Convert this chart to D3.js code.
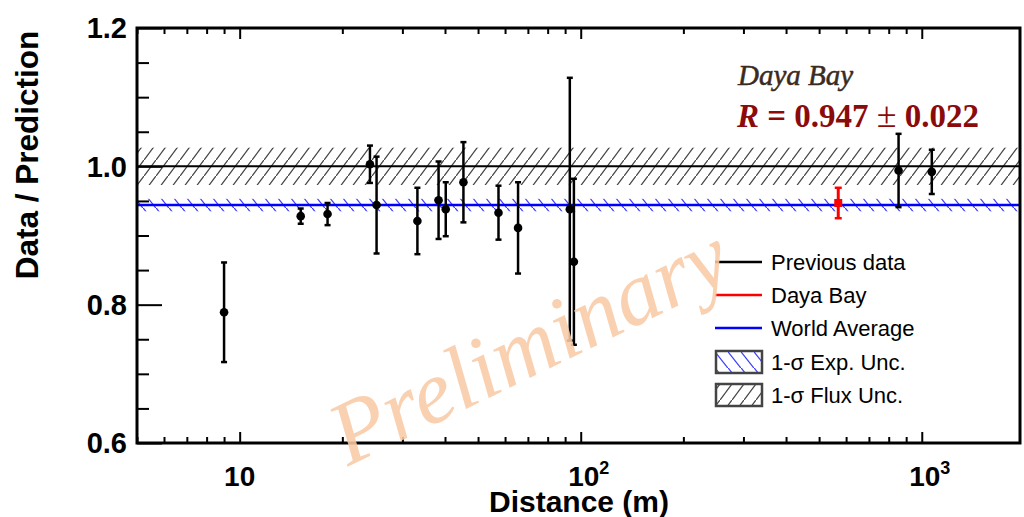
<!DOCTYPE html>
<html>
<head>
<meta charset="utf-8">
<script src="https://cdn.jsdelivr.net/npm/d3@7"></script>
<style>
  body { margin: 0; background: #fff; }
  svg { display: block; }
</style>
</head>
<body>
<div id="chart"></div>
<script>
// previous reactor experiments (distance in m, ratio data/prediction, 1-sigma error)
let distances = [9, 15.1, 18.1, 24.1, 25.2, 33.2, 38.3, 40.2, 45.3, 57.4, 65.5, 92.9, 95.5, 855, 1070];
let ratios = [0.789, 0.928, 0.931, 1.003, 0.944, 0.921, 0.951, 0.938, 0.977, 0.933, 0.911, 0.938, 0.862, 0.994, 0.992];
let errors = [0.072, 0.011, 0.016, 0.027, 0.07, 0.048, 0.056, 0.039, 0.058, 0.039, 0.066, 0.19, 0.12, 0.053, 0.032];

// Daya Bay point
let dyb_distance = [569];
let dyb_ratio = [0.947];
let dyb_error = [0.022];

// world average and bands
let world_avg = [0.944];
let exp_unc = [0.009];
let flux_ref = [1.0];
let flux_unc = [0.027];

let y_ticks = [0.6, 0.8, 1.0, 1.2];
let y_labels = ["0.6", "0.8", "1.0", "1.2"];
let x_ticks = [10, 100, 1000];
let x_exps = ["", "2", "3"];

let legend_labels = ["Previous data", "Daya Bay", "World Average", "1-\u03c3 Exp. Unc.", "1-\u03c3 Flux Unc."];

let width = 1024, height = 517;
let margin = {top: 28, right: 4, bottom: 74, left: 137};

let svg = d3.select("#chart").append("svg")
	.attr("width", width)
	.attr("height", height)
	.attr("viewBox", [0, 0, width, height]);

let defs = svg.append("defs");

// hatch patterns
let pf = defs.append("pattern")
	.attr("id", "hatch-flux")
	.attr("patternUnits", "userSpaceOnUse")
	.attr("width", 12).attr("height", 16);
pf.append("path")
	.attr("d", "M-3,20 L15,-4")
	.attr("stroke", "#444").attr("stroke-width", 1.3);

let pe = defs.append("pattern")
	.attr("id", "hatch-exp")
	.attr("patternUnits", "userSpaceOnUse")
	.attr("width", 13).attr("height", 16);
pe.append("path")
	.attr("d", "M-3,-4 L16,20")
	.attr("stroke", "#3a3aff").attr("stroke-width", 1.2);

defs.append("clipPath").attr("id", "plot-clip")
	.append("rect")
	.attr("x", margin.left).attr("y", margin.top)
	.attr("width", width - margin.left - margin.right)
	.attr("height", height - margin.top - margin.bottom);

let x = d3.scaleLog()
	.domain([5, 1941])
	.range([margin.left, width - margin.right]);

let y = d3.scaleLinear()
	.domain([0.6, 1.2])
	.range([height - margin.bottom, margin.top]);

let plot = svg.append("g").attr("clip-path", "url(#plot-clip)");

// flux band
plot.append("rect")
	.attr("x", x(5)).attr("width", x(1941) - x(5))
	.attr("y", y(flux_ref[0] + flux_unc[0]))
	.attr("height", y(flux_ref[0] - flux_unc[0]) - y(flux_ref[0] + flux_unc[0]))
	.attr("fill", "url(#hatch-flux)");

// exp band
plot.append("rect")
	.attr("x", x(5)).attr("width", x(1941) - x(5))
	.attr("y", y(world_avg[0] + exp_unc[0]))
	.attr("height", y(world_avg[0] - exp_unc[0]) - y(world_avg[0] + exp_unc[0]))
	.attr("fill", "url(#hatch-exp)");

plot.append("line")
	.attr("x1", x(5)).attr("x2", x(1941))
	.attr("y1", y(flux_ref[0])).attr("y2", y(flux_ref[0]))
	.attr("stroke", "#000").attr("stroke-width", 2);

plot.append("line")
	.attr("x1", x(5)).attr("x2", x(1941))
	.attr("y1", y(world_avg[0])).attr("y2", y(world_avg[0]))
	.attr("stroke", "#0000ff").attr("stroke-width", 2.5);

// axes (ticks inward, labels drawn by hand)
let minorX = [];
[1, 10, 100].forEach(dec => {
	for (let k = 2; k <= 9; k++) {
		let v = dec * k;
		if (v >= 5 && v <= 1941 && x_ticks.indexOf(v) < 0) minorX.push(v);
	}
});
let minorY = d3.range(0.65, 1.2, 0.05).filter(v => y_ticks.every(t => Math.abs(t - v) > 1e-6));

function styleAxis(g) {
	g.selectAll(".domain").remove();
	g.selectAll(".tick line").attr("stroke", "#000").attr("stroke-width", 2);
	g.selectAll(".tick text").remove();
}

let bottomY = height - margin.bottom;
svg.append("g").attr("transform", "translate(0," + bottomY + ")")
	.call(d3.axisBottom(x).tickValues(x_ticks).tickSize(-11).tickFormat(""))
	.call(styleAxis);
svg.append("g").attr("transform", "translate(0," + bottomY + ")")
	.call(d3.axisBottom(x).tickValues(minorX).tickSize(-6).tickFormat(""))
	.call(styleAxis);
svg.append("g").attr("transform", "translate(0," + margin.top + ")")
	.call(d3.axisTop(x).tickValues(x_ticks).tickSize(-11).tickFormat(""))
	.call(styleAxis);
svg.append("g").attr("transform", "translate(0," + margin.top + ")")
	.call(d3.axisTop(x).tickValues(minorX).tickSize(-6).tickFormat(""))
	.call(styleAxis);
svg.append("g").attr("transform", "translate(" + margin.left + ",0)")
	.call(d3.axisLeft(y).tickValues(y_ticks).tickSize(-25).tickFormat(""))
	.call(styleAxis);
svg.append("g").attr("transform", "translate(" + margin.left + ",0)")
	.call(d3.axisLeft(y).tickValues(minorY).tickSize(-12).tickFormat(""))
	.call(styleAxis);

// frame
svg.append("rect")
	.attr("x", margin.left).attr("y", margin.top)
	.attr("width", width - margin.left - margin.right)
	.attr("height", height - margin.top - margin.bottom)
	.attr("fill", "none").attr("stroke", "#000").attr("stroke-width", 3);

// tick labels
svg.append("g").selectAll("text")
	.data(y_ticks)
	.enter().append("text")
	.attr("x", margin.left - 10)
	.attr("y", d => y(d))
	.attr("dy", "0.36em")
	.attr("text-anchor", "end")
	.attr("font-family", "Liberation Sans, Arial, sans-serif")
	.attr("font-weight", "bold")
	.attr("font-size", 29)
	.text((d, i) => y_labels[i]);

let xl = svg.append("g").selectAll("text")
	.data(x_ticks)
	.enter().append("text")
	.attr("x", (d, i) => x(d) + (x_exps[i] ? 8 : 0))
	.attr("y", 486)
	.attr("text-anchor", "middle")
	.attr("font-family", "Liberation Sans, Arial, sans-serif")
	.attr("font-weight", "bold")
	.attr("font-size", 28);
xl.append("tspan").text("10");
xl.append("tspan")
	.attr("font-size", 18)
	.attr("dy", -12)
	.text((d, i) => x_exps[i]);

// axis titles
svg.append("text")
	.attr("x", 579).attr("y", 512)
	.attr("text-anchor", "middle")
	.attr("font-family", "Liberation Sans, Arial, sans-serif")
	.attr("font-weight", "bold")
	.attr("font-size", 30)
	.text("Distance (m)");

svg.append("text")
	.attr("transform", "translate(38,155) rotate(-90)")
	.attr("text-anchor", "middle")
	.attr("font-family", "Liberation Sans, Arial, sans-serif")
	.attr("font-weight", "bold")
	.attr("font-size", 31.5)
	.text("Data / Prediction");

// previous data
let prev = distances.map((d, i) => ({d: d, r: ratios[i], e: errors[i]}));
let pts = svg.append("g");
pts.selectAll("line.bar")
	.data(prev).enter().append("line")
	.attr("x1", d => x(d.d)).attr("x2", d => x(d.d))
	.attr("y1", d => y(d.r + d.e)).attr("y2", d => y(d.r - d.e))
	.attr("stroke", "#000").attr("stroke-width", 2.5);
pts.selectAll("line.capt")
	.data(prev).enter().append("line")
	.attr("x1", d => x(d.d) - 3).attr("x2", d => x(d.d) + 3)
	.attr("y1", d => y(d.r + d.e)).attr("y2", d => y(d.r + d.e))
	.attr("stroke", "#000").attr("stroke-width", 2.5);
pts.selectAll("line.capb")
	.data(prev).enter().append("line")
	.attr("x1", d => x(d.d) - 3).attr("x2", d => x(d.d) + 3)
	.attr("y1", d => y(d.r - d.e)).attr("y2", d => y(d.r - d.e))
	.attr("stroke", "#000").attr("stroke-width", 2.5);
pts.selectAll("circle")
	.data(prev).enter().append("circle")
	.attr("cx", d => x(d.d)).attr("cy", d => y(d.r))
	.attr("r", 4.3).attr("fill", "#000");

// Daya Bay
let dyb = dyb_distance.map((d, i) => ({d: d, r: dyb_ratio[i], e: dyb_error[i]}));
let dg = svg.append("g");
dg.selectAll("line.bar").data(dyb).enter().append("line")
	.attr("x1", d => x(d.d)).attr("x2", d => x(d.d))
	.attr("y1", d => y(d.r + d.e)).attr("y2", d => y(d.r - d.e))
	.attr("stroke", "#ff0000").attr("stroke-width", 3);
dg.selectAll("line.capt").data(dyb).enter().append("line")
	.attr("x1", d => x(d.d) - 3.5).attr("x2", d => x(d.d) + 3.5)
	.attr("y1", d => y(d.r + d.e)).attr("y2", d => y(d.r + d.e))
	.attr("stroke", "#ff0000").attr("stroke-width", 2.5);
dg.selectAll("line.capb").data(dyb).enter().append("line")
	.attr("x1", d => x(d.d) - 3.5).attr("x2", d => x(d.d) + 3.5)
	.attr("y1", d => y(d.r - d.e)).attr("y2", d => y(d.r - d.e))
	.attr("stroke", "#ff0000").attr("stroke-width", 2.5);
dg.selectAll("rect").data(dyb).enter().append("rect")
	.attr("x", d => x(d.d) - 4).attr("y", d => y(d.r) - 4)
	.attr("width", 8).attr("height", 8)
	.attr("fill", "#ff0000");

// annotation
svg.append("text")
	.attr("x", 738).attr("y", 85)
	.attr("font-family", "Liberation Serif, Times New Roman, serif")
	.attr("font-style", "italic")
	.attr("font-size", 29)
	.attr("fill", "#3b2a20")
	.attr("stroke", "#3b2a20").attr("stroke-width", 0.5)
	.text("Daya Bay");

let rt = svg.append("text")
	.attr("x", 737).attr("y", 127)
	.attr("font-family", "Liberation Serif, Times New Roman, serif")
	.attr("font-weight", "bold")
	.attr("font-size", 33)
	.attr("fill", "#8b0a0a");
rt.append("tspan").attr("font-style", "italic").text("R");
rt.append("tspan").text(" = " + dyb_ratio[0].toFixed(3) + "  ");
rt.append("tspan").attr("font-weight", "normal").attr("font-size", 36).text("\u00b1");
rt.append("tspan").text("  " + dyb_error[0].toFixed(3));

// legend
let lg = svg.append("g");
let rowY = [262, 295, 328, 362, 395];
let lineColors = ["#000", "#ff0000", "#0000ff"];
lg.selectAll("line")
	.data(lineColors).enter().append("line")
	.attr("x1", 715).attr("x2", 762)
	.attr("y1", (d, i) => rowY[i]).attr("y2", (d, i) => rowY[i])
	.attr("stroke", d => d).attr("stroke-width", 2.5);
lg.selectAll("rect")
	.data(["url(#hatch-exp)", "url(#hatch-flux)"]).enter().append("rect")
	.attr("x", 716).attr("y", (d, i) => rowY[i + 3] - 11)
	.attr("width", 46).attr("height", 22)
	.attr("fill", d => d)
	.attr("stroke", "#444").attr("stroke-width", 2.5);
lg.selectAll("text")
	.data(legend_labels).enter().append("text")
	.attr("x", 771)
	.attr("y", (d, i) => rowY[i] + 7.5)
	.attr("font-family", "Liberation Sans, Arial, sans-serif")
	.attr("font-size", 22)
	.attr("fill", "#000")
	.text(d => d);

// watermark
svg.append("text")
	.attr("transform", "translate(542,372) rotate(-26)")
	.attr("text-anchor", "middle")
	.attr("font-family", "Liberation Serif, Times New Roman, serif")
	.attr("font-style", "italic")
	.attr("font-size", 90)
	.attr("fill", "#f8caa5")
	.attr("fill-opacity", 0.88)
	.text("Preliminary");
</script>
</body>
</html>
